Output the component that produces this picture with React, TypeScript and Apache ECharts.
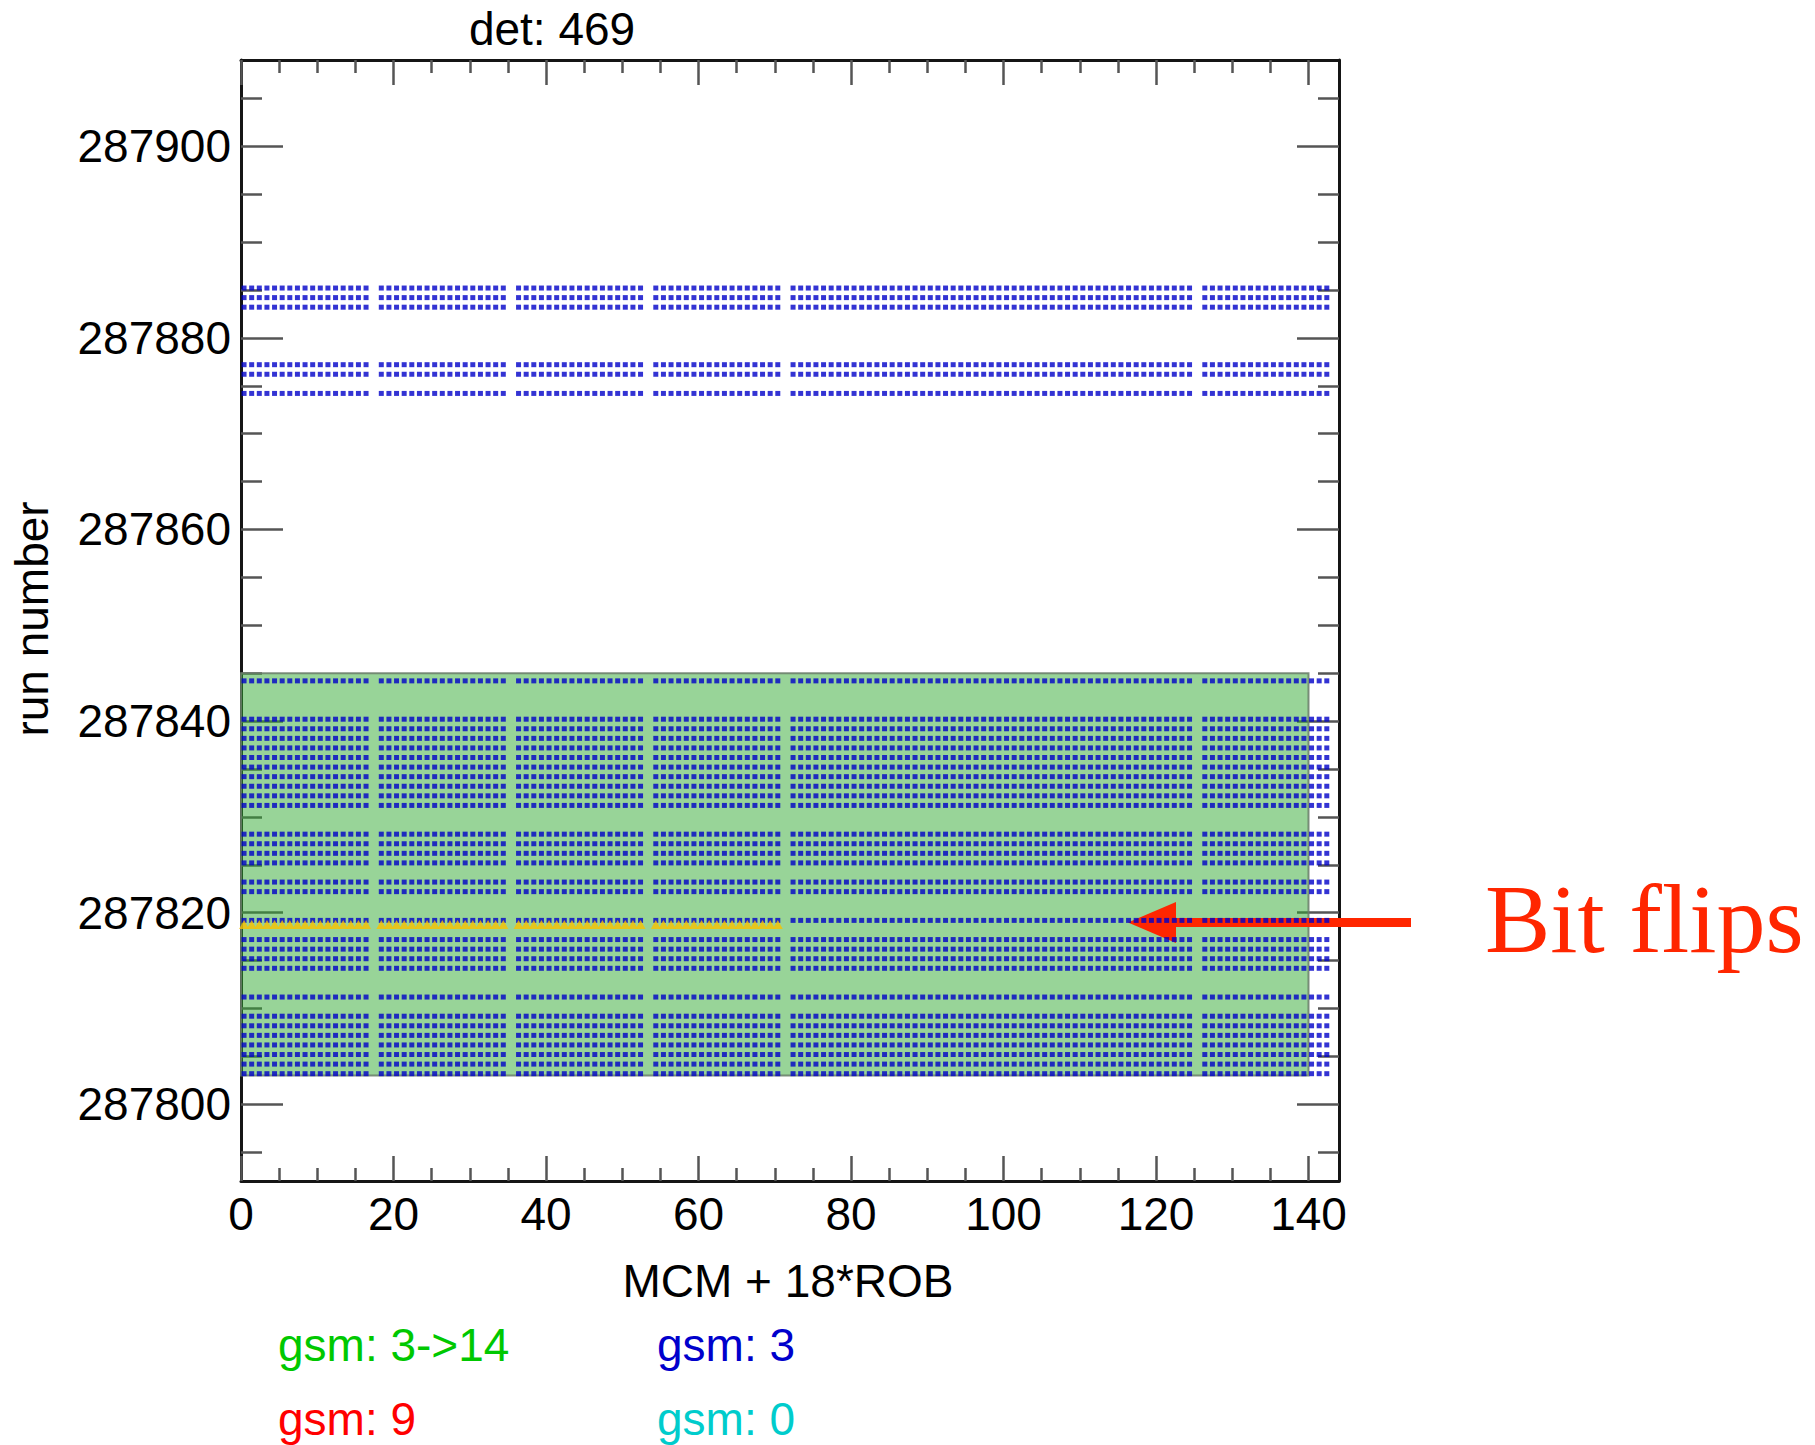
import React, { useEffect, useRef } from "react";
import * as echarts from "echarts";

// ---- Chart data ----
const detectorTitle = "det: 469";
const xAxisTitle = "MCM + 18*ROB";
const yAxisTitle = "run number";

const xRange = [0, 144];
const yRange = [287792, 287909];
const xMajorTicks = [0, 20, 40, 60, 80, 100, 120, 140];
const xMinorTicks = [5, 10, 15, 25, 30, 35, 45, 50, 55, 65, 70, 75, 85, 90, 95, 105, 110, 115, 125, 130, 135];
const yMajorTicks = [287800, 287820, 287840, 287860, 287880, 287900];
const yMinorTicks = [
  287795, 287805, 287810, 287815, 287825, 287830, 287835, 287845, 287850,
  287855, 287865, 287870, 287875, 287885, 287890, 287895, 287905,
];

// MCM + 18*ROB channel index range and the channels that are not read out
const channelCount = 144;
const missingChannels = [17, 35, 53, 71, 125, 143];

// runs in which every read-out MCM reports gsm 3
const gsm3Runs = [
  287885, 287884, 287883, 287877, 287876, 287874,
  287844, 287840, 287839, 287838, 287837, 287836, 287835, 287834, 287833,
  287832, 287831, 287828, 287827, 287826, 287825, 287823, 287822, 287819,
  287817, 287816, 287815, 287814, 287811, 287809, 287808, 287807, 287806,
  287805, 287804, 287803,
];

// run with flipped bits, and the last channel affected
const bitFlipRun = 287819;
const bitFlipLastChannel = 70;

// region in which gsm goes 3 -> 14: channel span and run span
const transitionChannels = [0, 140];
const transitionRuns = [287803, 287845];

const legendItems = [
  { label: "gsm: 3->14", color: "#00c800" },
  { label: "gsm: 3", color: "#0000cc" },
  { label: "gsm: 9", color: "#ff0000" },
  { label: "gsm: 0", color: "#00cccc" },
];

// ---- Drawing ----
const SANS = "'Liberation Sans', Arial, Helvetica, sans-serif";
const SERIF = "'Liberation Serif', 'Times New Roman', serif";
const markerShift = [0.4, 0.2];

const channels = Array.from({ length: channelCount }, (_, i) => i).filter(
  (c) => !missingChannels.includes(c)
);

const gsm3Points: number[][] = [];
gsm3Runs.forEach((run) => {
  channels.forEach((ch) => gsm3Points.push([ch + markerShift[0], run + markerShift[1]]));
});

const bitFlipPoints = channels
  .filter((ch) => ch <= bitFlipLastChannel)
  .map((ch) => [ch + markerShift[0], bitFlipRun + markerShift[1]]);

function tickAxis(
  position: string,
  range: number[],
  ticks: number[],
  length: number,
  withLine: boolean,
  withLabels: boolean
) {
  return {
    type: "value",
    position,
    min: range[0],
    max: range[1],
    offset: 0,
    splitLine: { show: false },
    axisLine: {
      show: withLine,
      onZero: false,
      lineStyle: { color: "#151515", width: 3 },
    },
    axisTick: {
      show: true,
      inside: true,
      length,
      customValues: ticks,
      lineStyle: { color: "#555555", width: 2.5 },
    },
    axisLabel: {
      show: withLabels,
      customValues: ticks,
      formatter: (v: number) => String(v),
      fontSize: 46,
      fontFamily: SANS,
      color: "#000000",
      margin: 10,
    },
  };
}

export default function App() {
  const ref = useRef<HTMLDivElement>(null);

  useEffect(() => {
    document.body.style.margin = "0";
    if (!ref.current) return;
    const chart = echarts.init(ref.current, undefined, { renderer: "svg" });

    chart.setOption({
      animation: false,
      backgroundColor: "#ffffff",
      grid: { left: 241, right: 476, top: 60, bottom: 264, containLabel: false },
      xAxis: [
        tickAxis("bottom", xRange, xMajorTicks, 25, true, true),
        tickAxis("bottom", xRange, xMinorTicks, 13, false, false),
        tickAxis("top", xRange, xMajorTicks, 25, true, false),
        tickAxis("top", xRange, xMinorTicks, 13, false, false),
      ],
      yAxis: [
        tickAxis("left", yRange, yMajorTicks, 42, true, true),
        tickAxis("left", yRange, yMinorTicks, 21, false, false),
        tickAxis("right", yRange, yMajorTicks, 42, true, false),
        tickAxis("right", yRange, yMinorTicks, 21, false, false),
      ],
      series: [
        {
          name: "gsm: 3->14",
          type: "custom",
          xAxisIndex: 0,
          yAxisIndex: 0,
          z: 1,
          silent: true,
          data: [[transitionChannels[0], transitionRuns[0], transitionChannels[1], transitionRuns[1]]],
          encode: { x: [0, 2], y: [1, 3] },
          renderItem: (_params: any, api: any) => {
            const p0 = api.coord([api.value(0), api.value(1)]);
            const p1 = api.coord([api.value(2), api.value(3)]);
            return {
              type: "rect",
              shape: { x: p0[0], y: p1[1], width: p1[0] - p0[0], height: p0[1] - p1[1] },
              style: {
                fill: "rgba(49,169,49,0.5)",
                stroke: "rgba(105,125,105,0.85)",
                lineWidth: 2,
              },
            };
          },
        },
        {
          name: "gsm: 3",
          type: "scatter",
          xAxisIndex: 0,
          yAxisIndex: 0,
          z: 3,
          silent: true,
          symbol: "rect",
          symbolSize: 5,
          itemStyle: { color: "#0000c8" },
          data: gsm3Points,
        },
        {
          name: "bit flips",
          type: "scatter",
          xAxisIndex: 0,
          yAxisIndex: 0,
          z: 4,
          silent: true,
          symbol: "triangle",
          symbolSize: [10, 9],
          symbolOffset: [0, 4],
          itemStyle: { color: "#f9c200" },
          data: bitFlipPoints,
        },
      ],
      graphic: [
        {
          type: "text",
          x: 552,
          y: 29,
          style: {
            text: detectorTitle,
            font: `46px ${SANS}`,
            fill: "#000",
            align: "center",
            verticalAlign: "middle",
          },
        },
        {
          type: "text",
          x: 788,
          y: 1281,
          style: {
            text: xAxisTitle,
            font: `46px ${SANS}`,
            fill: "#000",
            align: "center",
            verticalAlign: "middle",
          },
        },
        {
          type: "text",
          x: 32,
          y: 619,
          rotation: Math.PI / 2,
          style: {
            text: yAxisTitle,
            font: `46px ${SANS}`,
            fill: "#000",
            align: "center",
            verticalAlign: "middle",
          },
        },
        ...legendItems.map((item, i) => ({
          type: "text",
          x: i % 2 === 0 ? 278 : 657,
          y: i < 2 ? 1345 : 1419,
          style: {
            text: item.label,
            font: `46px ${SANS}`,
            fill: item.color,
            align: "left",
            verticalAlign: "middle",
          },
        })),
        // annotation arrow pointing at the flipped run
        {
          type: "rect",
          shape: { x: 1172, y: 918, width: 239, height: 9 },
          style: { fill: "#ff2600" },
          z: 20,
        },
        {
          type: "polygon",
          shape: { points: [[1128, 922.5], [1176, 902], [1176, 943]] },
          style: { fill: "#ff2600" },
          z: 20,
        },
        {
          type: "text",
          x: 1485,
          y: 919,
          style: {
            text: "Bit flips",
            font: `98px ${SERIF}`,
            fill: "#ff2600",
            align: "left",
            verticalAlign: "middle",
          },
          z: 20,
        },
      ],
    });

    return () => chart.dispose();
  }, []);

  return <div ref={ref} style={{ width: 1815, height: 1445 }} />;
}
